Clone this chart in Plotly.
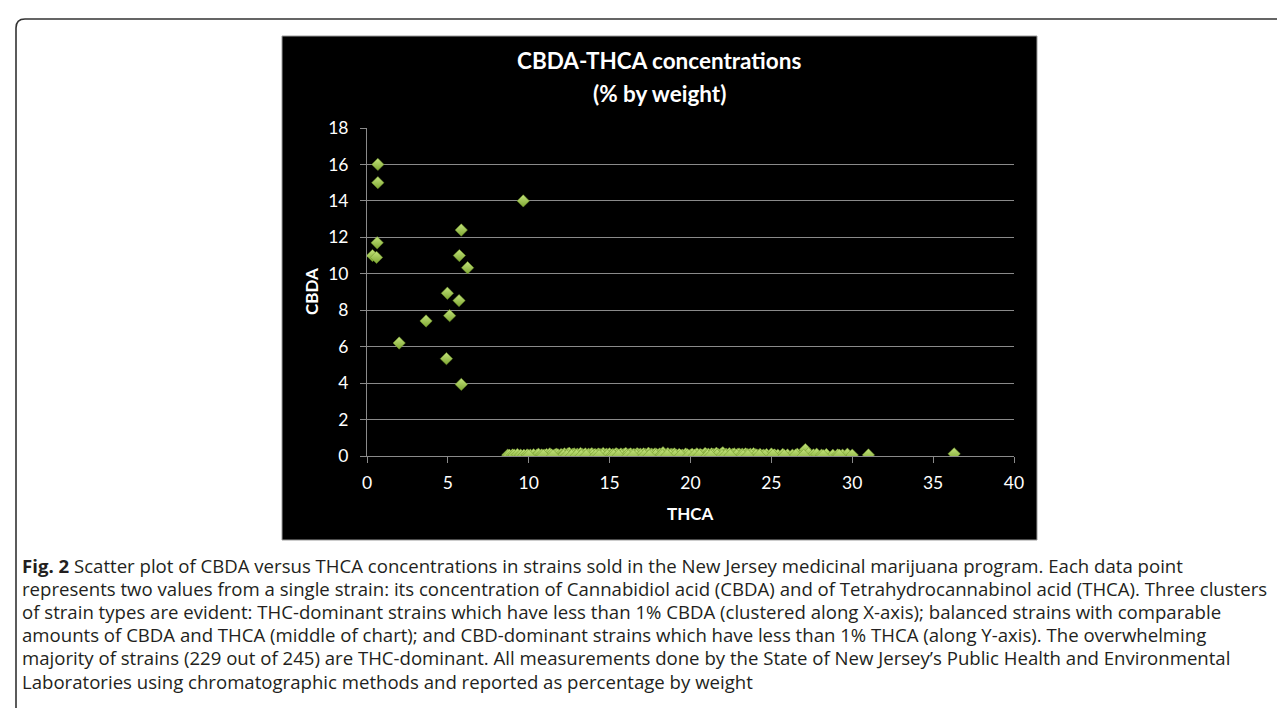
import plotly.graph_objects as go

# ---------------- data ----------------
# CBD-dominant strains (THCA < 1%)
cbd_thca = [0.67, 0.67, 0.63, 0.34, 0.59]
cbd_cbda = [16.0, 15.0, 11.7, 11.0, 10.9]

# balanced strains
bal_thca = [1.99, 3.65, 4.97, 5.11, 4.91, 5.69, 5.71, 5.83, 6.22, 5.83, 9.66]
bal_cbda = [6.2, 7.41, 8.93, 7.7, 5.34, 8.53, 11.0, 12.4, 10.33, 3.93, 14.0]

# THC-dominant strains (CBDA < 1%)
thc_thca = [
    8.7, 8.8, 9.0, 9.1, 9.3, 9.5, 9.7, 9.9, 10.1, 10.3, 10.5, 10.6, 10.8, 11.0, 11.1, 11.3, 11.4, 11.6, 11.7, 11.8,
    12.0, 12.1, 12.2, 12.3, 12.4, 12.5, 12.6, 12.7, 12.8, 12.9,
    13.0, 13.1, 13.2, 13.3, 13.4, 13.5, 13.6, 13.7, 13.8, 13.9, 14.0, 14.1, 14.2, 14.3, 14.4, 14.5, 14.6, 14.7, 14.8, 14.9,
    15.0, 15.1, 15.2, 15.3, 15.4, 15.5, 15.6, 15.7, 15.8, 15.9, 16.0, 16.1, 16.2, 16.3, 16.4, 16.5, 16.6, 16.7, 16.8, 16.9,
    17.0, 17.1, 17.2, 17.3, 17.4, 17.5, 17.6, 17.7, 17.8, 17.9, 18.0, 18.1, 18.2, 18.3, 18.4, 18.5, 18.6, 18.7, 18.8, 18.9,
    19.0, 19.1, 19.3, 19.5, 19.7, 19.8, 20.0, 20.1, 20.3, 20.4, 20.6, 20.7, 20.9, 21.0, 21.1, 21.2, 21.3, 21.4, 21.5, 21.6,
    21.7, 21.8, 21.9, 22.0, 22.1, 22.2, 22.3, 22.4, 22.5, 22.6, 22.7, 22.8, 22.9, 23.0, 23.1, 23.2, 23.3, 23.4, 23.5, 23.6,
    23.7, 23.8, 23.9, 24.0, 24.1, 24.3, 24.5, 24.7, 25.0, 25.2, 25.4, 25.7, 26.0, 26.3, 26.6, 26.9, 27.1, 27.3, 27.6, 27.8,
    28.1, 28.4, 28.8, 29.1, 29.4, 29.7, 30.0, 31.0, 36.3,
    12.15, 12.45, 12.75, 13.05, 13.35, 13.65, 13.95, 14.25, 14.55, 14.85, 15.15, 15.45, 15.75, 16.05, 16.35, 16.65, 16.95, 17.25, 17.55, 17.85,
    18.15, 18.45, 18.75, 19.05, 19.4, 19.9, 20.25, 20.55, 21.05, 21.35, 21.65, 21.95, 22.25, 22.55, 22.85, 23.15, 23.45, 23.75, 24.05, 24.6,
    10.0, 10.9, 11.5, 12.35, 12.65, 12.95, 13.25, 13.55, 14.15, 14.35, 15.25, 15.55, 16.15, 16.45, 17.15, 17.45, 18.25, 18.55, 21.25, 22.15,
    22.45, 23.25, 23.55, 24.25, 25.1, 25.8, 26.5, 27.0, 28.2, 29.2,
]
thc_cbda = [
    0.05, 0.04, 0.06, 0.05, 0.08, 0.05, 0.04, 0.06, 0.05, 0.07, 0.05, 0.10, 0.06, 0.05, 0.08, 0.12, 0.06, 0.05, 0.10, 0.07,
    0.08, 0.05, 0.12, 0.06, 0.10, 0.15, 0.05, 0.09, 0.12, 0.06,
    0.10, 0.05, 0.14, 0.08, 0.06, 0.12, 0.05, 0.10, 0.07, 0.13, 0.06, 0.09, 0.05, 0.11, 0.08, 0.06, 0.14, 0.05, 0.10, 0.07,
    0.12, 0.05, 0.09, 0.06, 0.13, 0.08, 0.05, 0.11, 0.06, 0.10, 0.14, 0.05, 0.08, 0.12, 0.06, 0.09, 0.05, 0.13, 0.07, 0.10,
    0.06, 0.12, 0.08, 0.05, 0.15, 0.07, 0.10, 0.05, 0.12, 0.08, 0.06, 0.11, 0.05, 0.18, 0.09, 0.06, 0.13, 0.05, 0.10, 0.07,
    0.12, 0.06, 0.09, 0.05, 0.11, 0.07, 0.05, 0.10, 0.06, 0.12, 0.08, 0.05, 0.14, 0.07, 0.10, 0.05, 0.12, 0.08, 0.06, 0.15,
    0.09, 0.05, 0.12, 0.18, 0.07, 0.10, 0.05, 0.13, 0.06, 0.09, 0.12, 0.05, 0.08, 0.11, 0.06, 0.10, 0.05, 0.12, 0.08, 0.06,
    0.10, 0.05, 0.13, 0.07, 0.06, 0.09, 0.05, 0.08, 0.11, 0.06, 0.05, 0.09, 0.06, 0.05, 0.10, 0.08, 0.35, 0.12, 0.06, 0.10,
    0.05, 0.08, 0.04, 0.06, 0.05, 0.10, 0.05, 0.06, 0.12,
    0.03, 0.02, 0.04, 0.03, 0.02, 0.03, 0.04, 0.02, 0.03, 0.02, 0.04, 0.03, 0.02, 0.03, 0.04, 0.02, 0.03, 0.02, 0.04, 0.03,
    0.02, 0.03, 0.04, 0.02, 0.03, 0.02, 0.04, 0.03, 0.02, 0.03, 0.04, 0.02, 0.03, 0.02, 0.04, 0.03, 0.02, 0.03, 0.04, 0.02,
    0.02, 0.03, 0.02, 0.01, 0.02, 0.03, 0.01, 0.02, 0.03, 0.01, 0.02, 0.03, 0.01, 0.02, 0.03, 0.01, 0.02, 0.03, 0.01, 0.02,
    0.03, 0.01, 0.02, 0.03, 0.04, 0.02, 0.05, 0.03, 0.02, 0.04,
]

x_ticks = [0, 5, 10, 15, 20, 25, 30, 35, 40]
y_ticks = [0, 2, 4, 6, 8, 10, 12, 14, 16, 18]

chart_title = ["CBDA-THCA concentrations", "(% by weight)"]
x_title = "THCA"
y_title = "CBDA"

caption_lines = [
    "<b>Fig. 2</b> Scatter plot of CBDA versus THCA concentrations in strains sold in the New Jersey medicinal marijuana program. Each data point",
    "represents two values from a single strain: its concentration of Cannabidiol acid (CBDA) and of Tetrahydrocannabinol acid (THCA). Three clusters",
    "of strain types are evident: THC-dominant strains which have less than 1% CBDA (clustered along X-axis); balanced strains with comparable",
    "amounts of CBDA and THCA (middle of chart); and CBD-dominant strains which have less than 1% THCA (along Y-axis). The overwhelming",
    "majority of strains (229 out of 245) are THC-dominant. All measurements done by the State of New Jersey\u2019s Public Health and Environmental",
    "Laboratories using chromatographic methods and reported as percentage by weight",
]

# ---------------- layout geometry (pixels) ----------------
W, H = 1285, 708
ML, MR, MT, MB = 359, 279, 120, 260
PW = W - ML - MR
PH = H - MT - MB


def px(x):
    return (x - ML) / PW


def py(y):
    return 1 - (y - MT) / PH


all_x = cbd_thca + bal_thca + thc_thca
all_y = cbd_cbda + bal_cbda + thc_cbda

fig = go.Figure()
fig.add_trace(go.Scatter(
    x=all_x, y=all_y, mode="markers",
    marker=dict(symbol="diamond", size=9.5, color="#c4e47c",
                gradient=dict(type="vertical", color="#7ea632"),
                line=dict(width=0.5, color="#6c9226")),
    hoverinfo="x+y", showlegend=False,
))

FONT = "Lato, Calibri, sans-serif"
GRID = "#8a8a8a"

fig.update_layout(
    width=W, height=H,
    margin=dict(l=ML, r=MR, t=MT, b=MB, pad=0),
    paper_bgcolor="white", plot_bgcolor="black",
    font=dict(family=FONT, color="white"),
    xaxis=dict(range=[0, 40], tickvals=x_ticks, showgrid=False, zeroline=False,
               showline=True, linecolor=GRID, linewidth=1,
               ticks="outside", ticklen=6, tickcolor=GRID, tickwidth=1,
               tickfont=dict(size=17.5, color="white", family=FONT), ticklabelstandoff=5),
    yaxis=dict(range=[0, 18], tickvals=y_ticks, showgrid=True, gridcolor=GRID, gridwidth=1,
               zeroline=False, showline=True, linecolor=GRID, linewidth=1,
               ticks="outside", ticklen=6, tickcolor=GRID, tickwidth=1,
               tickfont=dict(size=17.5, color="white", family=FONT), ticklabelstandoff=8),
)

# black chart-area background
box_l, box_t, box_r, box_b = 274, 28, 1029, 532
fig.add_shape(type="rect", xref="paper", yref="paper", layer="below",
              x0=px(box_l), x1=px(box_r), y0=py(box_b), y1=py(box_t),
              fillcolor="black", line=dict(width=1, color="#9a9a9a"))

# outer rounded frame (bottom edge lies beyond the page)
fl, ft, fr, fb, r = 8, 11, 1283, 720, 9
path = (f"M {px(fl + r)},{py(ft)} L {px(fr - r)},{py(ft)} Q {px(fr)},{py(ft)} {px(fr)},{py(ft + r)} "
        f"L {px(fr)},{py(fb - r)} Q {px(fr)},{py(fb)} {px(fr - r)},{py(fb)} "
        f"L {px(fl + r)},{py(fb)} Q {px(fl)},{py(fb)} {px(fl)},{py(fb - r)} "
        f"L {px(fl)},{py(ft + r)} Q {px(fl)},{py(ft)} {px(fl + r)},{py(ft)} Z")
fig.add_shape(type="path", xref="paper", yref="paper", layer="below", path=path,
              line=dict(width=1.6, color="#333333"))

# chart title
for txt, yy in zip(chart_title, [53, 85]):
    fig.add_annotation(text=f"<b>{txt}</b>", xref="paper", yref="paper", x=px(651), y=py(yy),
                       showarrow=False, xanchor="center", yanchor="middle",
                       font=dict(family=FONT, size=22.5, color="white"))

# axis titles
fig.add_annotation(text=f"<b>{y_title}</b>", xref="paper", yref="paper", x=px(303), y=py(284),
                   showarrow=False, textangle=-90, xanchor="center", yanchor="middle",
                   font=dict(family=FONT, size=17, color="white"))
fig.add_annotation(text=f"<b>{x_title}</b>", xref="paper", yref="paper", x=px(682), y=py(505),
                   showarrow=False, xanchor="center", yanchor="middle",
                   font=dict(family=FONT, size=17, color="white"))

# caption
for i, line in enumerate(caption_lines):
    fig.add_annotation(text=line, xref="paper", yref="paper", x=px(12), y=py(557 + i * 23.2),
                       showarrow=False, xanchor="left", yanchor="middle", align="left",
                       font=dict(family="Open Sans, sans-serif", size=18.6, color="#231f20"))

fig.write_html("out.html")
